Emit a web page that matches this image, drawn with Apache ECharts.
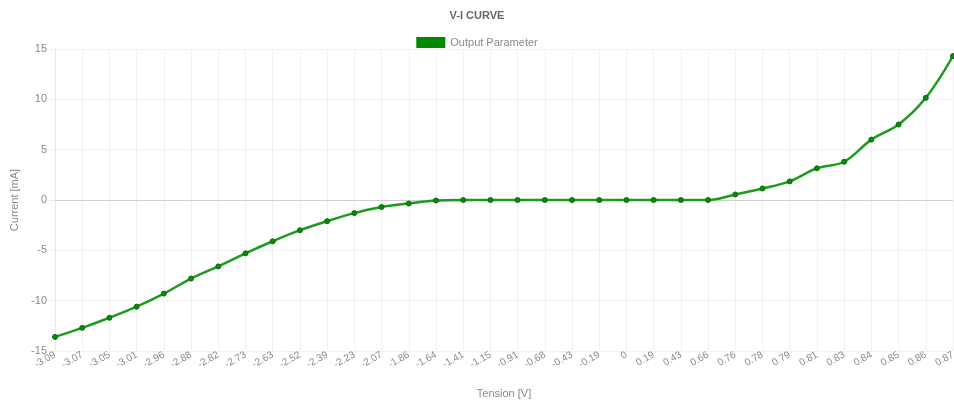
<!DOCTYPE html>
<html>
<head>
<meta charset="utf-8">
<script src="https://cdn.jsdelivr.net/npm/echarts@6/dist/echarts.min.js"></script>
<style>
html,body{margin:0;padding:0;background:#fff;}
#chart{width:954px;height:403px;}
</style>
</head>
<body>
<div id="chart"></div>
<script>
const tensionLabels = ['-3.09','-3.07','-3.05','-3.01','-2.96','-2.88','-2.82','-2.73','-2.63','-2.52','-2.39','-2.23','-2.07','-1.86','-1.64','-1.41','-1.15','-0.91','-0.68','-0.43','-0.19','0','0.19','0.43','0.66','0.76','0.78','0.79','0.81','0.83','0.84','0.85','0.86','0.87'];
const currentValues = [-13.6,-12.7,-11.7,-10.6,-9.3,-7.8,-6.6,-5.3,-4.1,-3.0,-2.1,-1.3,-0.7,-0.35,-0.05,0,0,0,0,0,0,0,0,0,0,0.55,1.15,1.85,3.15,3.8,6.0,7.5,10.15,14.3];
const yTicks = { min: -15, max: 15, interval: 5 };
const seriesName = 'Output Parameter';
const titleText = 'V-I CURVE';

const chart = echarts.init(document.getElementById('chart'));
const txt = '#8a8a8a';
chart.setOption({
  animation: false,
  textStyle: { fontFamily: 'Liberation Sans, Arial, sans-serif' },
  title: {
    text: titleText, left: 'center', top: 5,
    textStyle: { fontSize: 11, fontWeight: 'bold', color: '#666' }
  },
  legend: {
    top: 32, left: 'center', icon: 'rect', itemWidth: 29, itemHeight: 11, itemGap: 10,
    itemStyle: { borderWidth: 0, color: '#008a00' },
    textStyle: { fontSize: 11, color: txt },
    data: [seriesName]
  },
  grid: { left: 55, right: 1, top: 49, bottom: 52, containLabel: false, outerBoundsMode: 'none' },
  xAxis: {
    type: 'category', data: tensionLabels, boundaryGap: false,
    name: 'Tension [V]', nameLocation: 'middle', nameGap: 37,
    nameTextStyle: { fontSize: 11, color: txt },
    axisLine: { lineStyle: { color: '#e6e6e6' } },
    axisTick: { show: true, length: 6, lineStyle: { color: '#eeeeee' } },
    axisLabel: { rotate: 30, fontSize: 10, color: txt, margin: 3, interval: 0 },
    splitLine: { show: true, lineStyle: { color: '#f1f1f1' } }
  },
  yAxis: {
    type: 'value', min: yTicks.min, max: yTicks.max, interval: yTicks.interval,
    name: 'Current [mA]', nameLocation: 'middle', nameGap: 32,
    nameTextStyle: { fontSize: 11, color: txt },
    axisLine: { show: true, lineStyle: { color: '#e6e6e6' } },
    axisTick: { show: true, length: 6, lineStyle: { color: '#eeeeee' } },
    axisLabel: { fontSize: 11, color: txt, margin: 8 },
    splitLine: { show: true, lineStyle: { color: '#f1f1f1' } }
  },
  series: [{
    name: seriesName, type: 'line', data: currentValues, smooth: 0.35,
    symbol: 'circle', symbolSize: 5, showSymbol: true,
    itemStyle: { color: '#0a8a0a', borderColor: '#0a6a0a', borderWidth: 1 },
    lineStyle: { color: '#1c9c1c', width: 2.5 },
    markLine: {
      silent: true, symbol: 'none', label: { show: false }, animation: false,
      lineStyle: { color: '#cfcfcf', type: 'solid', width: 1 },
      data: [{ yAxis: 0 }],
      z: 1
    }
  }]
});
</script>
</body>
</html>
